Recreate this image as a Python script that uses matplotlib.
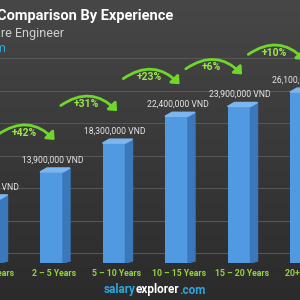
import matplotlib
matplotlib.use('Agg')
import matplotlib.pyplot as plt
import numpy as np
from matplotlib.patches import Polygon, FancyArrowPatch

plt.rcParams['font.family'] = ['Roboto', 'DejaVu Sans']

categories = ['0 – 2 Years', '2 – 5 Years', '5 – 10 Years', '10 – 15 Years', '15 – 20 Years', '20+ Years']
salaries = [9790000, 13900000, 18300000, 22400000, 23900000, 26100000]
value_labels = ['9,790,000 VND', '13,900,000 VND', '18,300,000 VND', '22,400,000 VND',
                '23,900,000 VND', '26,100,000 VND']
pct_labels = ['+42%', '+31%', '+23%', '+6%', '+10%']

W, H = 300, 300
fig = plt.figure(figsize=(3, 3), dpi=100)

# background gradient + decorative grid lines, in pixel coords
bg = fig.add_axes([0, 0, 1, 1])
bg.set_xlim(0, W)
bg.set_ylim(H, 0)
grad = np.linspace(0, 1, 256).reshape(-1, 1)
bg.imshow(grad, extent=[0, W, H, 0], aspect='auto',
          cmap=matplotlib.colors.LinearSegmentedColormap.from_list('g', ['#474747', '#2b2b2b']))
for gy in [58, 91, 123, 156, 188, 221, 253]:
    bg.axhline(gy, color='#595959', lw=0.7)
bg.axis('off')

# main chart axes: bottom at y=264 px, bar spacing 62.5 px
px_per_m = 6.55
bottom_px = 263
ax = fig.add_axes([0, (H - bottom_px) / H, 1, bottom_px / H])
ax.patch.set_alpha(0)
ax.set_xlim(11 / 62.5, 311 / 62.5)
ax.set_ylim(0, bottom_px / px_per_m * 1e6)
ax.axis('off')
unit = 1e6 / px_per_m   # value per pixel
xu = 1 / 62.5           # x units per pixel

x = np.arange(len(categories))
bw = 23 * xu
dx = 7 * xu
dy = 4 * unit
ax.bar(x, salaries, width=bw, color='#5199e0', zorder=3)
for xi, v in zip(x, salaries):
    side = [(xi + bw / 2, 0), (xi + bw / 2 + dx, 2 * unit), (xi + bw / 2 + dx, v + dy), (xi + bw / 2, v)]
    top = [(xi - bw / 2, v), (xi + bw / 2, v), (xi + bw / 2 + dx, v + dy), (xi - bw / 2 + dx, v + dy)]
    ax.add_patch(Polygon(side, closed=True, color='#3b78bb', zorder=3))
    ax.add_patch(Polygon(top, closed=True, color='#7cb6ee', zorder=3))

for xi, v, lab in zip(x, salaries, value_labels):
    ax.text(xi + 1 * xu, v + 12 * unit, lab, ha='center', va='center',
            color='#e6e6e6', fontsize=6.2, zorder=5)

for i, lab in enumerate(categories):
    ax.text(i + 3 * xu, -11 * unit, lab, ha='center', va='center', color='#93d43c',
            fontsize=6.3, fontweight='bold', clip_on=False)

green = '#6fd62a'
for i, p in enumerate(pct_labels):
    a, b = i, i + 1
    y_end = salaries[b] + 30 * unit
    y_start = y_end + 6 * unit
    arr = FancyArrowPatch((a + 7 * xu, y_start), (b + 5 * xu, y_end),
                          connectionstyle='arc3,rad=-0.45',
                          arrowstyle='-|>,head_length=4,head_width=3.5',
                          color=green, lw=2, zorder=6, clip_on=False)
    ax.add_patch(arr)
    ax.text((a + b) / 2 + 4 * xu, y_start + 3 * unit, p, ha='center', va='center',
            color='#9be84a', fontsize=7.5, fontweight='bold', zorder=7)

# header
fig.text(173 / W, 1 - 16 / H, 'Salary Comparison By Experience', ha='right', va='center',
         color='white', fontsize=10.5, fontweight='bold')
fig.text(64 / W, 1 - 33 / H, 'Software Engineer', ha='right', va='center',
         color='#d0d0d0', fontsize=9)
fig.text(7 / W, 1 - 48 / H, 'Vietnam', ha='right', va='center',
         color='#2ea8e0', fontsize=9)

# footer
t1 = fig.text(104 / W, 1 - 290 / H, 'salary', ha='left', va='center',
              color='#2aa7e0', fontsize=8.5, fontweight='bold')
fig.canvas.draw()
r = fig.canvas.get_renderer()
bb = t1.get_window_extent(r)
t2 = fig.text(bb.x1 / W, 1 - 290 / H, 'explorer', ha='left', va='center',
              color='white', fontsize=8.5, fontweight='bold')
bb2 = t2.get_window_extent(r)
fig.text(bb2.x1 / W, 1 - 290 / H, '.com', ha='left', va='center',
         color='#2aa7e0', fontsize=8.5, fontweight='bold')

fig.savefig('out.png', dpi=100)
